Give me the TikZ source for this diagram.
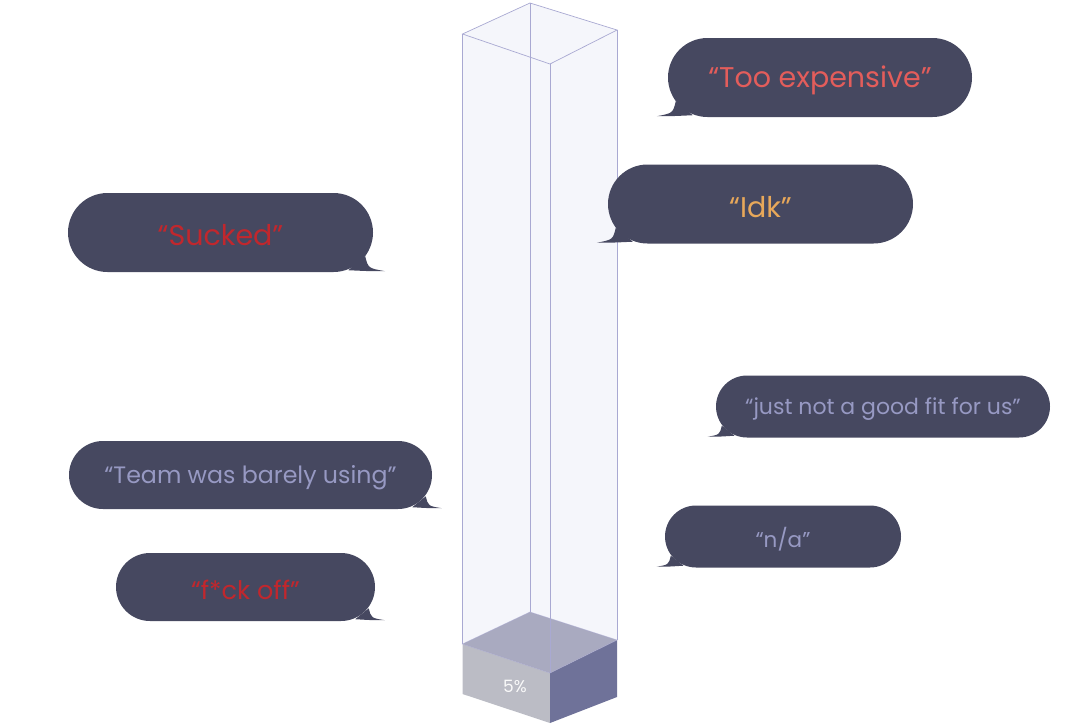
\documentclass[tikz,border=0pt]{standalone}
\usepackage{fontspec}
\setmainfont{Poppins}
\usepackage{xcolor}
\usetikzlibrary{calc}

\definecolor{bubblebg}{HTML}{464860}
\definecolor{coral}{HTML}{E35D5B}
\definecolor{gold}{HTML}{E8A85A}
\definecolor{crimson}{HTML}{C1272D}
\definecolor{lilac}{HTML}{9799C3}
\definecolor{glassfill}{HTML}{F5F6FB}
\definecolor{glassedge}{HTML}{A9A9D2}
\definecolor{blockleft}{HTML}{BBBCC5}
\definecolor{blockright}{HTML}{6F7299}
\definecolor{blocktop}{HTML}{A9AAC0}

\tikzset{
  bubble/.style={fill=bubblebg, rectangle, inner sep=0pt,
    minimum width=#1, text centered},
  bigbubble/.style={bubble=#1, minimum height=79pt, rounded corners=39.5pt,
    font=\fontsize{28.5}{32}\selectfont},
  smallbubble/.style={bubble=#1, minimum height=62pt, rounded corners=31pt,
    font=\fontsize{21.5}{25}\selectfont},
  edge/.style={draw=glassedge, line width=0.7pt},
}

% tail at the lower left or lower right of a bubble, #2 = size factor
\newcommand{\lefttail}[2]{
  \fill[bubblebg] ($(#1.south west)+(8*#2,-16*#2)$)
    .. controls ($(#1.south west)+(5*#2,-4*#2)$) .. ($(#1.south west)+(-11*#2,-1)$)
    .. controls ($(#1.south west)+(4*#2,-1)$) .. ($(#1.south west)+(25*#2,-2)$) -- cycle;
}
\newcommand{\righttail}[2]{
  \fill[bubblebg] ($(#1.south east)+(-8*#2,-16*#2)$)
    .. controls ($(#1.south east)+(-5*#2,-4*#2)$) .. ($(#1.south east)+(12*#2,-1)$)
    .. controls ($(#1.south east)+(-4*#2,-1)$) .. ($(#1.south east)+(-25*#2,-2)$) -- cycle;
}
\newcommand{\lowered}[1]{\raisebox{-3pt}[\height][\depth]{#1}}

\begin{document}
\begin{tikzpicture}[x=1pt, y=-1pt]
  \useasboundingbox (0,0) rectangle (1080,724);

  % glass column corners
  \coordinate (tl) at (462.5,34);  \coordinate (tb) at (530,3);
  \coordinate (tr) at (617,30);    \coordinate (tf) at (550,64);
  \coordinate (fl) at (462.5,644); \coordinate (fb) at (530,612);
  \coordinate (fr) at (617,640);   \coordinate (ff) at (550,673);
  \coordinate (bl) at (462.5,694); \coordinate (bf) at (550,723);
  \coordinate (br) at (617,697);

  \fill[glassfill] (tl) -- (tb) -- (tr) -- (fr) -- (ff) -- (fl) -- cycle;
  \fill[blockleft] (fl) -- (ff) -- (bf) -- (bl) -- cycle;
  \fill[blockright] (ff) -- (fr) -- (br) -- (bf) -- cycle;
  \fill[blocktop] (fl) -- (fb) -- (fr) -- (ff) -- cycle;
  \draw[edge] (tl) -- (tb) -- (tr) -- (tf) -- cycle;
  \draw[edge] (tl) -- (fl);
  \draw[edge] (tb) -- (fb);
  \draw[edge] (tf) -- (ff);
  \draw[edge] (tr) -- (fr);
  \draw[edge, draw opacity=0.5] (fl) -- (fb) -- (fr) -- (ff) -- cycle;
  \node (pct) at (515,686) {\color{white!92!blockleft}\fontsize{17}{19}\selectfont 5\%};

  % speech bubbles
  \node[bigbubble=304pt, text=coral] (expensive) at (820,77.5) {\lowered{“Too expensive”}};
  \lefttail{expensive}{1}
  \node[bigbubble=305pt, text=gold] (idk) at (760.5,204) {\lowered{“Idk”}};
  \lefttail{idk}{1}
  \node[bigbubble=305pt, text=crimson] (sucked) at (220.5,232.5) {\lowered{“Sucked”}};
  \righttail{sucked}{1}
  \node[smallbubble=334pt, font=\fontsize{22}{26}\selectfont, text=lilac] (fit) at (883,406.5) {\lowered{“just not a good fit for us”}};
  \lefttail{fit}{0.75}
  \node[smallbubble=363pt, minimum height=68pt, rounded corners=34pt,
    font=\fontsize{23.7}{27}\selectfont, text=lilac] (team) at (250.5,475) {\lowered{“Team was barely using”}};
  \righttail{team}{0.8}
  \node[smallbubble=236pt, text=lilac] (na) at (783,536.5) {\lowered{“n/a”}};
  \lefttail{na}{0.75}
  \node[smallbubble=259pt, minimum height=68pt, rounded corners=34pt,
    font=\fontsize{25.5}{29}\selectfont, text=crimson] (fuckoff) at (245.5,587) {\lowered{“f*ck off”}};
  \righttail{fuckoff}{0.8}
\end{tikzpicture}
\end{document}
